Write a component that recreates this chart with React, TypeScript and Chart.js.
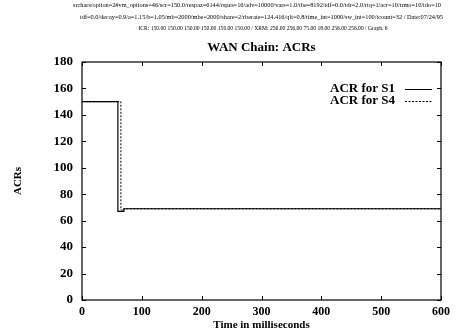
import React, { useEffect, useRef } from "react";
import { Chart, registerables } from "chart.js";

Chart.register(...registerables);

const headerLines = [
  "srchars/option=2#vm_options=46/scr=150.0/respaz=6144/rspzs=16/adv=10000/vars=1.0/tbe=8192/tdf=0.0/tdr=2.0/rtq=1/acr=10/trmo=10/tdo=10",
  "tdf=0.0/decay=0.9/a=1.15/b=1.05/mb=2000/mbe=2000/share=2/rberate=124.416/qlt=0.8/time_int=1000/sw_int=100/tcount=32 / Date:07/24/95",
  "ICR: 150.00 150.00 150.00 150.00 150.00 150.00 / XRM: 256.00 256.00 75.00 18.00 256.00 256.00 / Graph. 6",
];
const chartTitle = "WAN Chain: ACRs";
const xTitle = "Time in milliseconds";
const yTitle = "ACRs";
const seriesNames = ["ACR for S1", "ACR for S4"];

const s1Time = [0, 60, 60, 70, 70, 600];
const s1Acr = [150, 150, 67, 67, 69, 69];
const s4Time = [0, 65, 65, 70, 70, 600];
const s4Acr = [150, 150, 68, 68, 69, 69];

const xTicks = [0, 100, 200, 300, 400, 500, 600];
const yTicks = [0, 20, 40, 60, 80, 100, 120, 140, 160, 180];

const serif = "'Liberation Serif', 'DejaVu Serif', serif";

export default function App() {
  const ref = useRef<HTMLCanvasElement | null>(null);
  useEffect(() => {
    document.body.style.margin = "0";
    const canvas = ref.current!;
    const decor = {
      id: "decor",
      afterDraw(chart: any) {
        const ctx = chart.ctx;
        const a = chart.chartArea;
        const xs = chart.scales.x;
        const ys = chart.scales.y;
        ctx.save();
        ctx.strokeStyle = "#000";
        ctx.lineWidth = 1.2;
        ctx.strokeRect(a.left, a.top, a.right - a.left, a.bottom - a.top);
        ctx.lineWidth = 1;
        ctx.beginPath();
        for (const v of xTicks) {
          const px = Math.round(xs.getPixelForValue(v)) + 0.5;
          ctx.moveTo(px, a.bottom);
          ctx.lineTo(px, a.bottom - 4);
          ctx.moveTo(px, a.top);
          ctx.lineTo(px, a.top + 4);
        }
        for (const v of yTicks) {
          const py = Math.round(ys.getPixelForValue(v)) + 0.5;
          ctx.moveTo(a.left, py);
          ctx.lineTo(a.left + 4, py);
          ctx.moveTo(a.right, py);
          ctx.lineTo(a.right - 4, py);
        }
        ctx.stroke();
        ctx.fillStyle = "#000";
        ctx.textBaseline = "middle";
        ctx.textAlign = "left";
        ctx.font = `6.3px ${serif}`;
        ctx.fillText(headerLines[0], 73, 5);
        ctx.fillText(headerLines[1], 80, 17);
        ctx.textAlign = "center";
        ctx.font = `5.6px ${serif}`;
        ctx.fillText(headerLines[2], 263, 29);
        ctx.font = `bold 13px ${serif}`;
        ctx.fillText(chartTitle, (a.left + a.right) / 2, 48);
        ctx.font = `bold 11px ${serif}`;
        ctx.fillText(xTitle, (a.left + a.right) / 2, 325);
        ctx.save();
        ctx.translate(18, (a.top + a.bottom) / 2);
        ctx.rotate(-Math.PI / 2);
        ctx.fillText(yTitle, 0, 0);
        ctx.restore();
        ctx.font = `bold 13px ${serif}`;
        ctx.textAlign = "right";
        const ly = [89, 101];
        seriesNames.forEach((n, i) => {
          ctx.fillText(n, 395, ly[i]);
          ctx.beginPath();
          ctx.setLineDash(i === 0 ? [] : [2, 1.5]);
          ctx.lineWidth = 1;
          ctx.moveTo(405, ly[i] + 0.5);
          ctx.lineTo(432, ly[i] + 0.5);
          ctx.stroke();
        });
        ctx.restore();
      },
    };
    const chart = new Chart(canvas, {
      type: "line",
      data: {
        datasets: [
          {
            label: seriesNames[0],
            data: s1Time.map((t, i) => ({ x: t, y: s1Acr[i] })),
            borderColor: "#000",
            borderWidth: 1.2,
            pointRadius: 0,
            fill: false,
            tension: 0,
          },
          {
            label: seriesNames[1],
            data: s4Time.map((t, i) => ({ x: t, y: s4Acr[i] })),
            borderColor: "#000",
            borderWidth: 1,
            borderDash: [2, 1.5],
            pointRadius: 0,
            fill: false,
            tension: 0,
          },
        ],
      },
      options: {
        animation: false,
        responsive: false,
        maintainAspectRatio: false,
        layout: { padding: { top: 62, right: 23, left: 0, bottom: 0 } },
        plugins: { legend: { display: false }, tooltip: { enabled: false }, title: { display: false } },
        scales: {
          x: {
            type: "linear",
            min: 0,
            max: 600,
            afterFit: (s: any) => { s.height = 34; },
            afterBuildTicks: (s: any) => { s.ticks = xTicks.map((v) => ({ value: v })); },
            grid: { display: false, drawTicks: false },
            border: { display: false },
            ticks: { color: "#000", padding: 5, maxRotation: 0, font: { family: serif, size: 12, weight: "bold" } },
          },
          y: {
            type: "linear",
            min: 0,
            max: 180,
            afterFit: (s: any) => { s.width = 82; },
            afterBuildTicks: (s: any) => { s.ticks = yTicks.map((v) => ({ value: v })); },
            grid: { display: false, drawTicks: false },
            border: { display: false },
            ticks: { color: "#000", padding: 9, font: { family: serif, size: 13, weight: "bold" } },
          },
        },
      },
      plugins: [decor],
    });
    return () => chart.destroy();
  }, []);
  return (
    <div style={{ width: 464, height: 334, background: "#fff" }}>
      <canvas ref={ref} width={464} height={334} style={{ display: "block" }} />
    </div>
  );
}
